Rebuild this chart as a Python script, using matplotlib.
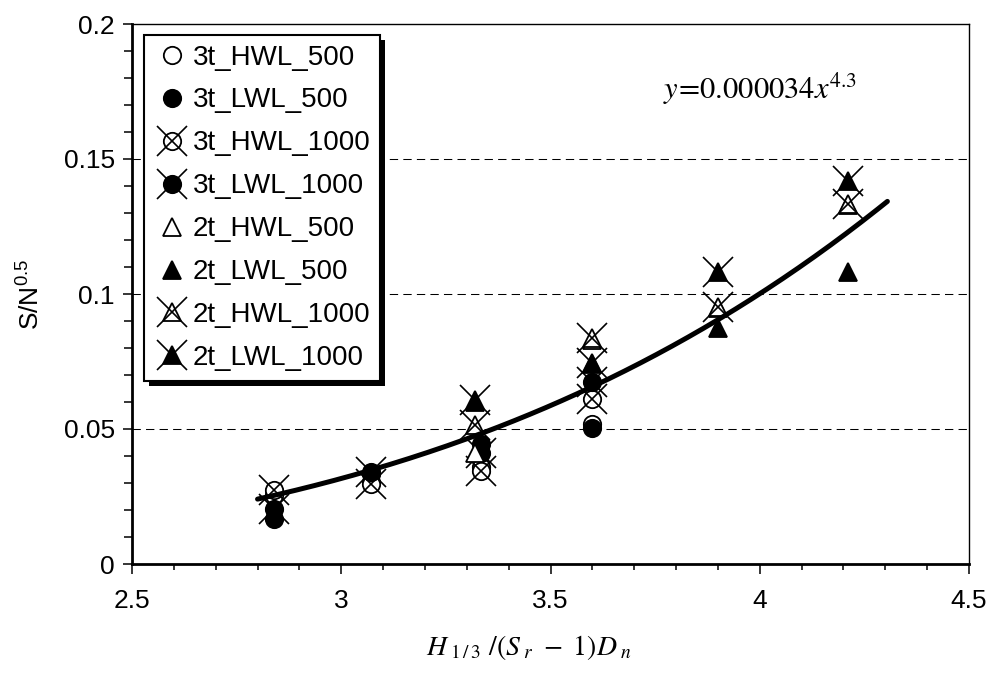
import numpy as np
import matplotlib
matplotlib.use("Agg")
import matplotlib.pyplot as plt
from matplotlib.patches import Rectangle
from matplotlib.ticker import MultipleLocator, FixedLocator, FixedFormatter

plt.rcParams['font.family'] = ['Liberation Sans', 'DejaVu Sans']
plt.rcParams['mathtext.fontset'] = 'custom'
plt.rcParams['mathtext.rm'] = 'Liberation Sans'
plt.rcParams['mathtext.it'] = 'Liberation Sans:italic'

# Three-layer armour (3t) test points
x_3t = [2.84, 3.07, 3.335, 3.60]
t3_hwl_500 = [0.0255, 0.0305, 0.036, 0.052]
t3_lwl_500 = [0.0165, 0.0335, 0.0445, 0.0505]
t3_hwl_1000 = [0.0275, 0.0295, 0.0345, 0.061]
t3_lwl_1000 = [0.0205, 0.034, 0.041, 0.0675]

# Two-layer armour (2t) test points
x_2t = [3.32, 3.60, 3.90, 4.21]
t2_hwl_500 = [0.041, 0.083, 0.095, 0.133]
t2_lwl_500 = [0.060, 0.074, 0.0875, 0.108]
t2_hwl_1000 = [0.0515, 0.0837, 0.0953, 0.1335]
t2_lwl_1000 = [0.0607, 0.0744, 0.1083, 0.1418]

series_labels = ["3t_HWL_500", "3t_LWL_500", "3t_HWL_1000", "3t_LWL_1000",
                 "2t_HWL_500", "2t_LWL_500", "2t_HWL_1000", "2t_LWL_1000"]

# Power-law trend line drawn through the data
fit_coef = 0.000391
fit_exp = 4.0
fit_x_start, fit_x_end = 2.80, 4.305
equation_text = r"$y\!=\!0.000034x^{4.3}$"

x_ticks = [2.5, 3.0, 3.5, 4.0, 4.5]
x_tick_labels = ["2.5", "3", "3.5", "4", "4.5"]
y_ticks = [0.0, 0.05, 0.10, 0.15, 0.20]
y_tick_labels = ["0", "0.05", "0.1", "0.15", "0.2"]

fig = plt.figure(figsize=(9.94, 6.77), dpi=100)
ax = fig.add_axes([132 / 994, 1 - 564 / 677, 837 / 994, 540 / 677])
ax.set_xlim(2.5, 4.5)
ax.set_ylim(0, 0.2)

series = [
    (x_3t, t3_hwl_500, "o", "white", False),
    (x_3t, t3_lwl_500, "o", "black", False),
    (x_3t, t3_hwl_1000, "o", "white", True),
    (x_3t, t3_lwl_1000, "o", "black", True),
    (x_2t, t2_hwl_500, "^", "white", False),
    (x_2t, t2_lwl_500, "^", "black", False),
    (x_2t, t2_hwl_1000, "^", "white", True),
    (x_2t, t2_lwl_1000, "^", "black", True),
]

handles = []
for (xs, ys, mk, fc, cross) in series:
    ms = 12.5 if mk == "o" else 13.0
    base, = ax.plot(xs, ys, linestyle="none", marker=mk, markersize=ms,
                    markerfacecolor=fc, markeredgecolor="black",
                    markeredgewidth=1.3, zorder=2)
    if cross:
        xm, = ax.plot(xs, ys, linestyle="none", marker="x", markersize=22,
                      markeredgecolor="black", markeredgewidth=1.2, zorder=2)
        handles.append((base, xm))
    else:
        handles.append(base)

# trend line
xf = np.linspace(fit_x_start, fit_x_end, 200)
ax.plot(xf, fit_coef * xf ** fit_exp, color="black", linewidth=3.6,
        solid_capstyle="round", zorder=3)

# dashed horizontal gridlines
for yv in y_ticks[1:-1]:
    ax.axhline(yv, color="black", linewidth=0.75, linestyle=(0, (8, 5)), zorder=1)

ax.xaxis.set_major_locator(FixedLocator(x_ticks))
ax.xaxis.set_major_formatter(FixedFormatter(x_tick_labels))
ax.xaxis.set_minor_locator(MultipleLocator(0.1))
ax.yaxis.set_major_locator(FixedLocator(y_ticks))
ax.yaxis.set_major_formatter(FixedFormatter(y_tick_labels))
ax.yaxis.set_minor_locator(MultipleLocator(0.01))

ax.tick_params(axis="x", which="major", direction="out", length=7, width=1.1,
               labelsize=19, pad=11)
ax.tick_params(axis="x", which="minor", direction="out", length=4.5, width=1.1)
ax.tick_params(axis="y", which="major", direction="out", length=6.5, width=1.1,
               labelsize=19, pad=6)
ax.tick_params(axis="y", which="minor", direction="out", length=5.5, width=1.1)

for side in ["left", "bottom"]:
    ax.spines[side].set_linewidth(2.0)
for side in ["top", "right"]:
    ax.spines[side].set_linewidth(1.0)

ax.set_ylabel(r"S/N$^{0.5}$", fontsize=19)
ax.yaxis.set_label_coords(-0.104, 0.5)
ax.set_xlabel(r"$H_{\ 1\,/\,3}\ /\left(S_{\ r}\ -\ 1\right)D_{\ n}$",
              fontsize=20, math_fontfamily="stix")
ax.xaxis.set_label_coords(0.474, -0.127)

ax.text(0.634, 0.881, equation_text, transform=ax.transAxes, fontsize=22,
        math_fontfamily="stix", va="center", ha="left")

leg = ax.legend(handles, series_labels, loc="upper left",
                bbox_to_anchor=(0.0143, 0.98), borderaxespad=0,
                fontsize=20, frameon=True, fancybox=False, framealpha=1,
                edgecolor="black", borderpad=0.35, handlelength=1.3,
                handletextpad=0.1, labelspacing=0.61)
leg.get_frame().set_linewidth(1.5)
leg.set_zorder(5)

fig.canvas.draw()
bb = leg.get_frame().get_window_extent(fig.canvas.get_renderer())
shadow = Rectangle((bb.x0 + 5, bb.y0 - 5), bb.width, bb.height, transform=None,
                   facecolor="black", edgecolor="none", zorder=4.9)
ax.add_patch(shadow)

fig.savefig("out.png", dpi=100)
